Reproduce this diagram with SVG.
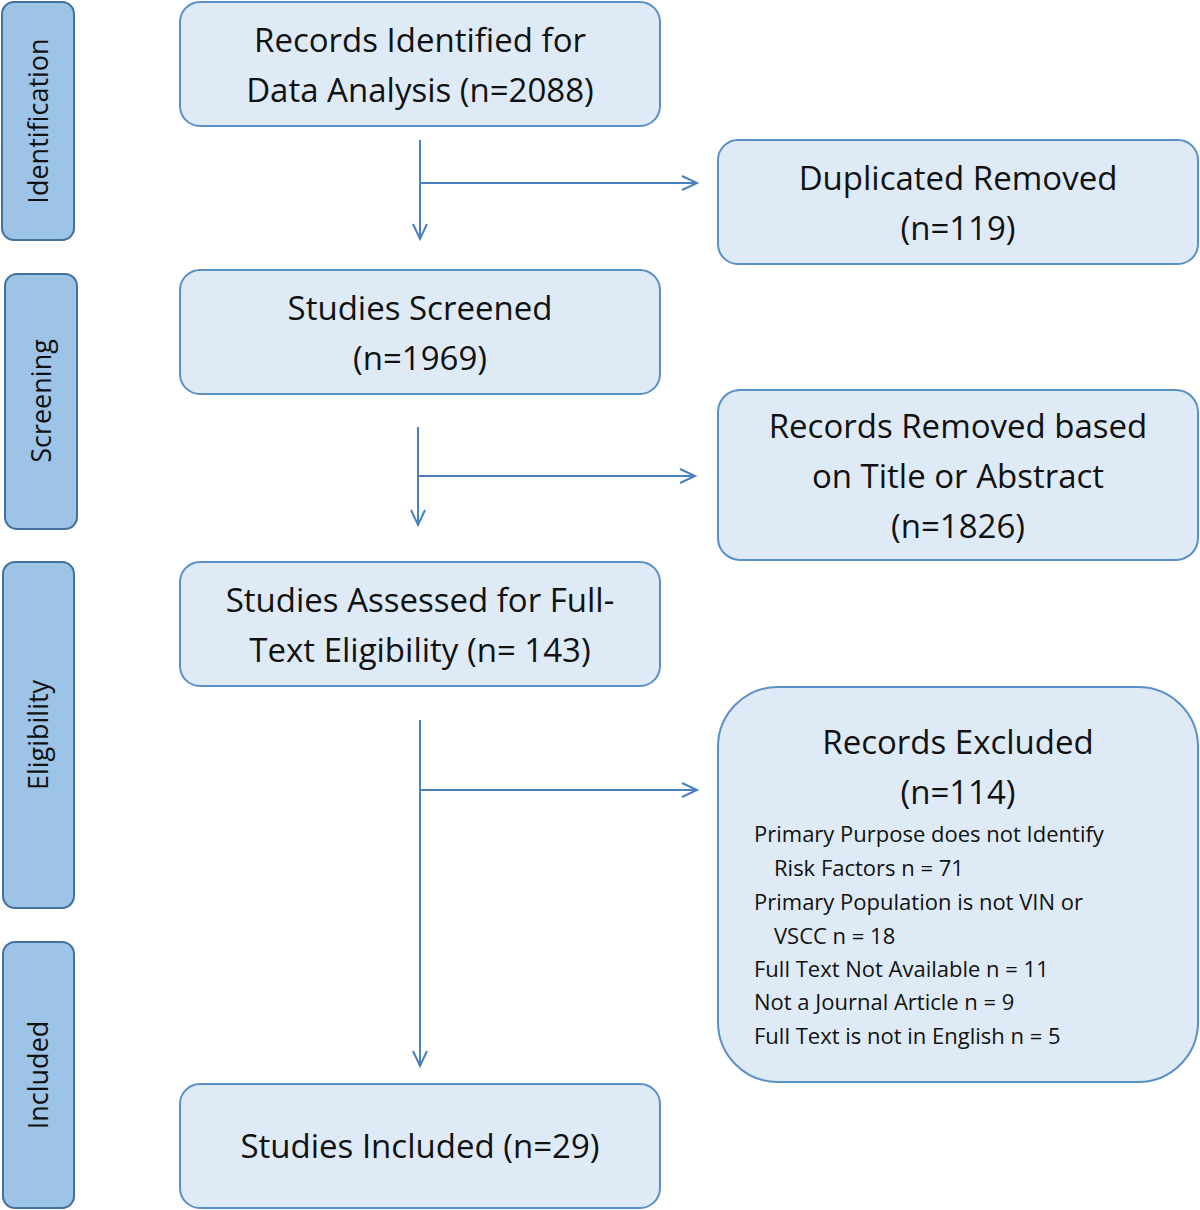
<svg xmlns="http://www.w3.org/2000/svg" width="1200" height="1210" viewBox="0 0 1200 1210">
<style>
.side{fill:#9DC3E6;stroke:#41719C;stroke-width:2}
.box{fill:#DEEBF7;stroke:#5B8FC7;stroke-width:2}
text{font-family:"Open Sans","Noto Sans",sans-serif;fill:#111}
.t{font-size:33px;text-anchor:middle}
.s{font-size:27px;text-anchor:middle}
.l{font-size:22px}
.c{fill:none;stroke:#4A80BF;stroke-width:2}
</style>
<defs><marker id="a" markerWidth="20" markerHeight="20" refX="16" refY="8" orient="auto" markerUnits="userSpaceOnUse"><path d="M1,1 L16,8 L1,15" fill="none" stroke="#4A80BF" stroke-width="2"/></marker></defs>
<g id="side-identification"><rect class="side" x="2" y="2" width="72" height="238" rx="12"/><text class="s" transform="translate(48,121) rotate(-90)">Identification</text></g>
<g id="side-screening"><rect class="side" x="5" y="274" width="72" height="255" rx="12"/><text class="s" transform="translate(51,401) rotate(-90)">Screening</text></g>
<g id="side-eligibility"><rect class="side" x="3" y="562" width="71" height="346" rx="12"/><text class="s" transform="translate(48,735) rotate(-90)">Eligibility</text></g>
<g id="side-included"><rect class="side" x="3" y="942" width="71" height="266" rx="12"/><text class="s" transform="translate(48,1075) rotate(-90)">Included</text></g>
<g id="n1"><rect class="box" x="180" y="2" width="480" height="124" rx="20"/><text class="t" x="420" y="52">Records Identified for</text><text class="t" x="420" y="102">Data Analysis (n=2088)</text></g>
<g id="n2"><rect class="box" x="180" y="270" width="480" height="124" rx="20"/><text class="t" x="420" y="320">Studies Screened</text><text class="t" x="420" y="370">(n=1969)</text></g>
<g id="n3"><rect class="box" x="180" y="562" width="480" height="124" rx="20"/><text class="t" x="420" y="612">Studies Assessed for Full-</text><text class="t" x="420" y="662">Text Eligibility (n= 143)</text></g>
<g id="n4"><rect class="box" x="180" y="1084" width="480" height="124" rx="20"/><text class="t" x="420" y="1158">Studies Included (n=29)</text></g>
<g id="r1"><rect class="box" x="718" y="140" width="480" height="124" rx="20"/><text class="t" x="958" y="190">Duplicated Removed</text><text class="t" x="958" y="240">(n=119)</text></g>
<g id="r2"><rect class="box" x="718" y="390" width="480" height="170" rx="22"/><text class="t" x="958" y="438">Records Removed based</text><text class="t" x="958" y="488">on Title or Abstract</text><text class="t" x="958" y="538">(n=1826)</text></g>
<g id="r3"><rect class="box" x="718" y="687" width="480" height="395" rx="60"/><text class="t" x="958" y="754">Records Excluded</text><text class="t" x="958" y="804">(n=114)</text>
<text class="l" x="754" y="842">Primary Purpose does not Identify</text>
<text class="l" x="774" y="876">Risk Factors n = 71</text>
<text class="l" x="754" y="910">Primary Population is not VIN or</text>
<text class="l" x="774" y="944">VSCC n = 18</text>
<text class="l" x="754" y="977">Full Text Not Available n = 11</text>
<text class="l" x="754" y="1010">Not a Journal Article n = 9</text>
<text class="l" x="754" y="1044">Full Text is not in English n = 5</text></g>
<g id="connectors">
<path class="c" d="M420,140 V239" marker-end="url(#a)"/><path class="c" d="M420,183 H697" marker-end="url(#a)"/>
<path class="c" d="M418,427 V525" marker-end="url(#a)"/><path class="c" d="M418,476 H695" marker-end="url(#a)"/>
<path class="c" d="M420,720 V1066" marker-end="url(#a)"/><path class="c" d="M420,790 H697" marker-end="url(#a)"/>
</g>
</svg>
